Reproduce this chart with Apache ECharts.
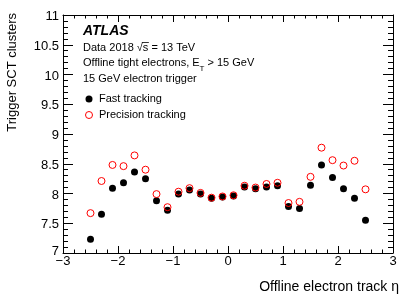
<!DOCTYPE html>
<html>
<head>
<meta charset="utf-8">
<script src="https://cdn.jsdelivr.net/npm/echarts@6/dist/echarts.min.js"></script>
<style>html,body{margin:0;padding:0;background:#fff}#c{width:415px;height:298px}</style>
</head>
<body>
<div id="c"></div>
<script>
const etaBins = [-2.5,-2.3,-2.1,-1.9,-1.7,-1.5,-1.3,-1.1,-0.9,-0.7,-0.5,-0.3,-0.1,0.1,0.3,0.5,0.7,0.9,1.1,1.3,1.5,1.7,1.9,2.1,2.3,2.5];
const fastTracking = [7.23,7.65,8.09,8.18,8.36,8.25,7.88,7.72,7.99,8.06,7.99,7.92,7.94,7.96,8.11,8.08,8.11,8.13,7.78,7.75,8.14,8.48,8.27,8.08,7.92,7.55];
const precisionTracking = [7.67,8.21,8.48,8.46,8.64,8.40,7.99,7.77,8.03,8.09,8.01,7.93,7.95,7.97,8.13,8.10,8.16,8.18,7.84,7.86,8.28,8.77,8.56,8.47,8.55,8.07];
const xTicks = [-3,-2,-1,0,1,2,3];
const yTicks = [7,7.5,8,8.5,9,9.5,10,10.5,11];
const seriesNames = ['Fast tracking','Precision tracking'];
const annotLines = ['ATLAS','Data 2018 ','√','s',' = 13 TeV','Offline tight electrons, E','T',' > 15 GeV','15 GeV electron trigger'];

const FF = '"Liberation Sans", Arial, Helvetica, sans-serif';
const cv = document.createElement('canvas').getContext('2d');
function tw(t, size, extra){ cv.font = (extra||'') + size + 'px ' + FF; return cv.measureText(t).width; }

const chart = echarts.init(document.getElementById('c'), null, {renderer:'canvas'});
const X0 = 83;
const wData = tw(annotLines[1], 11), wSqrt = tw(annotLines[2], 11), wS = tw(annotLines[3], 11);
const wOff = tw(annotLines[5], 11), wT = tw(annotLines[6], 8);
const txt = (t, x, y, size, extra) => ({type:'text', style:{text:t, x:x, y:y, font:(extra||'')+size+'px '+FF, fill:'#000', verticalAlign:'middle', align:'left'}, silent:true});

const fmtX = v => (v < 0 ? '\u2212' + Math.abs(v) : String(v));
const baseAxis = {
  axisLine:{show:true, onZero:false, lineStyle:{color:'#000', width:1}},
  splitLine:{show:false}
};
chart.setOption({
  animation:false,
  backgroundColor:'#fff',
  grid:{left:63, right:22, top:15, bottom:45, containLabel:false},
  xAxis:[
    Object.assign({}, baseAxis, {type:'value', min:xTicks[0], max:xTicks[xTicks.length-1], interval:1, position:'bottom',
      axisTick:{show:true, inside:true, length:7, lineStyle:{color:'#000'}},
      minorTick:{show:true, splitNumber:5, length:3.5, lineStyle:{color:'#000'}},
      axisLabel:{show:true, margin:2, color:'#000', fontSize:13, fontFamily:FF, formatter:fmtX},
      name:'Offline electron track \u03b7', nameLocation:'end', nameGap:6,
      nameTextStyle:{color:'#000', fontSize:14, fontFamily:FF, align:'right', verticalAlign:'top', padding:[27,0,0,0]}
    }),
    Object.assign({}, baseAxis, {type:'value', min:xTicks[0], max:xTicks[xTicks.length-1], interval:1, position:'top',
      axisTick:{show:true, inside:true, length:7, lineStyle:{color:'#000'}},
      minorTick:{show:true, splitNumber:5, length:3.5, lineStyle:{color:'#000'}},
      axisLabel:{show:false}})
  ],
  yAxis:[
    Object.assign({}, baseAxis, {type:'value', min:yTicks[0], max:yTicks[yTicks.length-1], interval:0.5, position:'left',
      axisTick:{show:true, inside:true, length:10, lineStyle:{color:'#000'}},
      minorTick:{show:true, splitNumber:5, length:5, lineStyle:{color:'#000'}},
      axisLabel:{show:true, margin:4, color:'#000', fontSize:13, fontFamily:FF, padding:[3,0,0,0],
        formatter: v => (v === yTicks[0] ? '{lo|' + v + '}' : String(v)),
        rich:{lo:{fontSize:13, fontFamily:FF, color:'#000', padding:[0,0,6,0]}}},
      name:'Trigger SCT clusters', nameLocation:'end', nameRotate:90, nameGap:2,
      nameTextStyle:{color:'#000', fontSize:13, fontFamily:FF, align:'right', verticalAlign:'bottom', padding:[0,0,44,0]}
    }),
    Object.assign({}, baseAxis, {type:'value', min:yTicks[0], max:yTicks[yTicks.length-1], interval:0.5, position:'right',
      axisTick:{show:true, inside:true, length:10, lineStyle:{color:'#000'}},
      minorTick:{show:true, splitNumber:5, length:5, lineStyle:{color:'#000'}},
      axisLabel:{show:false}})
  ],
  legend:{
    orient:'vertical', left:80, top:87, itemWidth:10, itemHeight:7, itemGap:2,
    textStyle:{color:'#000', fontSize:11, fontFamily:FF, lineHeight:14},
    data:[
      {name:seriesNames[0], icon:'circle', itemStyle:{color:'#000', borderWidth:0}},
      {name:seriesNames[1], icon:'circle', itemStyle:{color:'#fff', borderColor:'#ff0000', borderWidth:1}}
    ]
  },
  series:[
    {name:seriesNames[0], type:'scatter', symbol:'circle', symbolSize:7, z:2,
      itemStyle:{color:'#000', opacity:1},
      data: etaBins.map((e,i)=>[e, fastTracking[i]])},
    {name:seriesNames[1], type:'scatter', symbol:'circle', symbolSize:7, z:3,
      itemStyle:{color:'rgba(0,0,0,0)', borderColor:'#ff0000', borderWidth:1, opacity:1},
      data: etaBins.map((e,i)=>[e, precisionTracking[i]])}
  ],
  graphic:[
    txt(annotLines[0], X0, 31, 14, 'italic bold '),
    txt(annotLines[1], X0, 48, 11),
    txt(annotLines[2], X0 + wData, 48, 11),
    txt(annotLines[3], X0 + wData + wSqrt, 48, 11),
    {type:'line', shape:{x1:X0 + wData + wSqrt - 1, y1:42.5, x2:X0 + wData + wSqrt + wS + 0.5, y2:42.5}, style:{stroke:'#000', lineWidth:0.8}, silent:true},
    txt(annotLines[4], X0 + wData + wSqrt + wS, 48, 11),
    txt(annotLines[5], X0, 63, 11),
    txt(annotLines[6], X0 + wOff, 69, 8),
    txt(annotLines[7], X0 + wOff + wT, 63, 11),
    txt(annotLines[8], X0, 79, 11)
  ]
});
</script>
</body>
</html>
